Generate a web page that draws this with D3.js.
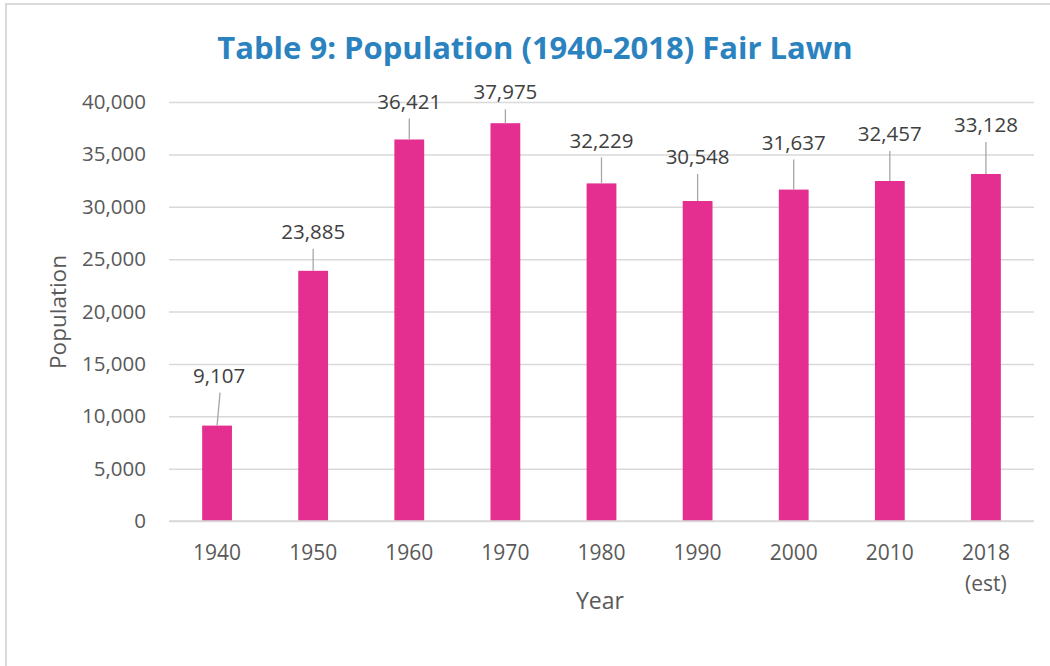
<!DOCTYPE html>
<html>
<head>
<meta charset="utf-8">
<script src="https://cdn.jsdelivr.net/npm/d3@7"></script>
<style>
  body { margin: 0; background: #fff; }
  text { font-family: "Open Sans", "Noto Sans", sans-serif; }
</style>
</head>
<body>
<div id="chart"></div>
<script>
'use strict';

// data
const years = ['1940', '1950', '1960', '1970', '1980', '1990', '2000', '2010', '2018 (est)'];
const population = [9107, 23885, 36421, 37975, 32229, 30548, 31637, 32457, 33128];
const yTicks = [0, 5000, 10000, 15000, 20000, 25000, 30000, 35000, 40000];

// how far each data label sits above its bar (px), and a small sideways nudge
const labelLift = [50, 39, 38, 31, 43, 44, 47, 47, 49];
const labelNudge = [2, 0, 0, 0, 0, 0, 0, 0, 0];

const W = 1050, H = 666;
const margin = {top: 102, right: 16, bottom: 145, left: 169};
const width = 1034 - margin.left, height = 521 - margin.top;

const svg = d3.select('#chart').append('svg')
    .attr('width', W)
    .attr('height', H);

// outer frame of the chart area
svg.append('rect')
    .attr('x', 6).attr('y', 4)
    .attr('width', W + 20).attr('height', H + 20)
    .attr('fill', '#fff')
    .attr('stroke', '#d9d9d9')
    .attr('stroke-width', 2);

svg.append('text')
    .attr('x', 535).attr('y', 59)
    .attr('text-anchor', 'middle')
    .attr('fill', '#2a82bf')
    .style('font-size', '31px')
    .style('font-weight', 'bold')
    .text('Table 9: Population (1940-2018) Fair Lawn');

const g = svg.append('g')
    .attr('transform', `translate(${margin.left},${margin.top})`);

const x = d3.scaleBand().domain(years).range([0, width]).paddingInner(0.69).paddingOuter(0.345);
const y = d3.scaleLinear().domain([0, 40000]).range([height, 0]);

// gridlines + y labels
const yAxis = g.append('g')
    .call(d3.axisLeft(y).tickValues(yTicks).tickSize(-width).tickPadding(23).tickFormat(d3.format(',')))
    .call(a => a.select('.domain').remove());
yAxis.selectAll('.tick line').attr('stroke', '#d9d9d9').attr('stroke-width', 1.5);
yAxis.selectAll('.tick text').attr('fill', '#595959').style('font-size', '20.5px');

g.selectAll('rect.bar')
    .data(population)
    .join('rect')
    .attr('class', 'bar')
    .attr('x', (d, i) => x(years[i]))
    .attr('y', d => y(d))
    .attr('width', x.bandwidth())
    .attr('height', d => height - y(d))
    .attr('fill', '#e42e90');

// leader lines
g.selectAll('line.leader')
    .data(population)
    .join('line')
    .attr('class', 'leader')
    .attr('x1', (d, i) => x(years[i]) + x.bandwidth() / 2 + labelNudge[i] * 1.5)
    .attr('y1', (d, i) => y(d) - labelLift[i] + 17)
    .attr('x2', (d, i) => x(years[i]) + x.bandwidth() / 2)
    .attr('y2', d => y(d))
    .attr('stroke', '#a6a6a6')
    .attr('stroke-width', 1.3);

g.selectAll('text.value')
    .data(population)
    .join('text')
    .attr('class', 'value')
    .attr('x', (d, i) => x(years[i]) + x.bandwidth() / 2 + labelNudge[i])
    .attr('y', (d, i) => y(d) - labelLift[i])
    .attr('dy', '0.35em')
    .attr('text-anchor', 'middle')
    .attr('fill', '#404040')
    .style('font-size', '20.5px')
    .text(d => d3.format(',')(d));

// x axis
g.append('line')
    .attr('x1', 0).attr('x2', width)
    .attr('y1', height).attr('y2', height)
    .attr('stroke', '#d9d9d9')
    .attr('stroke-width', 1.5);

const xl = g.selectAll('text.year')
    .data(years)
    .join('text')
    .attr('class', 'year')
    .attr('x', d => x(d) + x.bandwidth() / 2)
    .attr('y', height + 39)
    .attr('text-anchor', 'middle')
    .attr('fill', '#595959')
    .style('font-size', '21px');
xl.selectAll('tspan')
    .data(d => d.split(' '))
    .join('tspan')
    .attr('x', function() { return d3.select(this.parentNode).attr('x'); })
    .attr('dy', (d, i) => i ? 31 : 0)
    .text(d => d);

svg.append('text')
    .attr('x', 600).attr('y', 609)
    .attr('text-anchor', 'middle')
    .attr('fill', '#595959')
    .style('font-size', '23px')
    .text('Year');

svg.append('text')
    .attr('transform', 'translate(66,312) rotate(-90)')
    .attr('text-anchor', 'middle')
    .attr('fill', '#595959')
    .style('font-size', '22.5px')
    .text('Population');
</script>
</body>
</html>
